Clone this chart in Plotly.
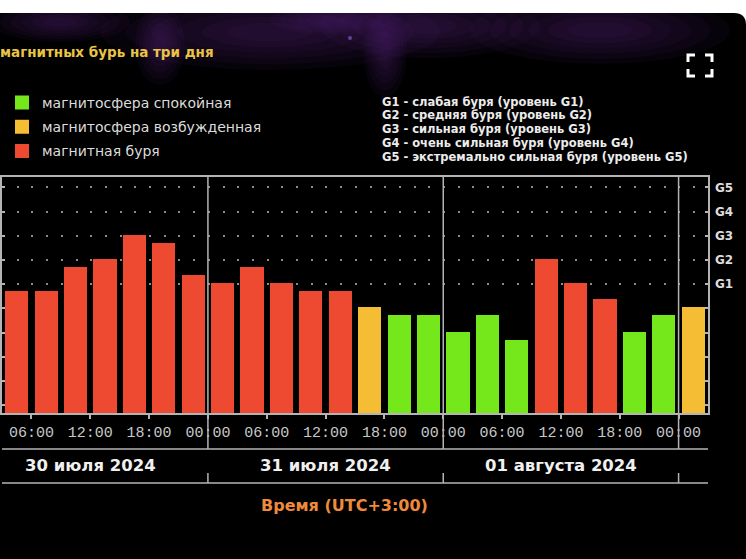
import plotly.graph_objects as go

# Kp index for each 3-hour interval (UTC+3), 30 Jul 03:00 .. 2 Aug 03:00
interval_start = [
    '2024-07-30 03:00', '2024-07-30 06:00', '2024-07-30 09:00', '2024-07-30 12:00',
    '2024-07-30 15:00', '2024-07-30 18:00', '2024-07-30 21:00',
    '2024-07-31 00:00', '2024-07-31 03:00', '2024-07-31 06:00', '2024-07-31 09:00',
    '2024-07-31 12:00', '2024-07-31 15:00', '2024-07-31 18:00', '2024-07-31 21:00',
    '2024-08-01 00:00', '2024-08-01 03:00', '2024-08-01 06:00', '2024-08-01 09:00',
    '2024-08-01 12:00', '2024-08-01 15:00', '2024-08-01 18:00', '2024-08-01 21:00',
    '2024-08-02 00:00',
]
kp_values = [
    4.67, 4.67, 5.67, 6.0, 7.0, 6.67, 5.33,
    5.0, 5.67, 5.0, 4.67, 4.67, 4.0, 3.67, 3.67,
    3.0, 3.67, 2.67, 6.0, 5.0, 4.33, 3.0, 3.67,
    4.0,
]
status = [
    'storm', 'storm', 'storm', 'storm', 'storm', 'storm', 'storm',
    'storm', 'storm', 'storm', 'storm', 'storm', 'active', 'quiet', 'quiet',
    'quiet', 'quiet', 'quiet', 'storm', 'storm', 'storm', 'quiet', 'quiet',
    'active',
]

status_names = {
    'quiet': 'магнитосфера спокойная',
    'active': 'магнитосфера возбужденная',
    'storm': 'магнитная буря',
}
status_colors = {'quiet': '#74e81a', 'active': '#f5bd33', 'storm': '#ee4a32'}

tick_times = [
    '2024-07-30 06:00', '2024-07-30 12:00', '2024-07-30 18:00', '2024-07-31 00:00',
    '2024-07-31 06:00', '2024-07-31 12:00', '2024-07-31 18:00', '2024-08-01 00:00',
    '2024-08-01 06:00', '2024-08-01 12:00', '2024-08-01 18:00', '2024-08-02 00:00',
]
tick_labels = ['06:00', '12:00', '18:00', '00:00'] * 3

day_starts = ['2024-07-31 00:00', '2024-08-01 00:00', '2024-08-02 00:00']
day_centers = ['2024-07-30 12:00', '2024-07-31 12:00', '2024-08-01 12:00']
day_labels = ['30 июля 2024', '31 июля 2024', '01 августа 2024']

g_levels = [5, 6, 7, 8, 9]
g_labels = ['G1', 'G2', 'G3', 'G4', 'G5']
g_notes = [
    'G1 - слабая буря (уровень G1)',
    'G2 - средняя буря (уровень G2)',
    'G3 - сильная буря (уровень G3)',
    'G4 - очень сильная буря (уровень G4)',
    'G5 - экстремально сильная буря (уровень G5)',
]

W, H = 746, 559
PL, PR, PT, PB = 2, 708, 177, 413   # plot area in pixels
Y_MIN, Y_MAX = -0.32, 9.43          # bars are drawn from the bottom of the frame


def px_x(x):
    return (x - PL) / (PR - PL)


def px_y(y):
    return (PB - y) / (PB - PT)


GRAY = '#b4b4b4'
THREE_H = 3 * 3600 * 1000

fig = go.Figure()
for key in ['quiet', 'active', 'storm']:
    xs = [t for t, s in zip(interval_start, status) if s == key]
    ys = [v for v, s in zip(kp_values, status) if s == key]
    fig.add_trace(go.Bar(
        x=xs, y=[v - Y_MIN for v in ys], base=Y_MIN,
        customdata=ys, hovertemplate='Kp %{customdata}<extra></extra>',
        name=status_names[key], legendgroup=key,
        xperiod=THREE_H, xperiodalignment='middle',
        width=0.72 * THREE_H,
        marker=dict(color=status_colors[key],
                    line=dict(color=status_colors[key], width=2)),
    ))
# keeps the right-hand G axis alive
fig.add_trace(go.Scatter(x=[], y=[], yaxis='y2', showlegend=False))

shapes = []
# soft purple haze at the top of the background
for cx, cy, rx, ry in [(270, 32, 170, 38), (430, 26, 110, 32), (600, 30, 130, 34),
                       (385, 50, 22, 48), (60, 22, 70, 20), (160, 45, 25, 40),
                       (330, 20, 60, 15)]:
    for k in range(6):
        f = 1 - 0.15 * k
        shapes.append(dict(type='circle', xref='paper', yref='paper', layer='below',
                           x0=px_x(cx - rx * f), x1=px_x(cx + rx * f),
                           y0=px_y(cy + ry * f), y1=px_y(cy - ry * f),
                           fillcolor='rgba(90,35,140,0.075)', line_width=0))
shapes.append(dict(type='circle', xref='paper', yref='paper', layer='below',
                   x0=px_x(348), x1=px_x(352), y0=px_y(40), y1=px_y(36),
                   fillcolor='rgba(150,100,210,0.6)', line_width=0))
# white strip above the dark panel
shapes.append(dict(type='rect', xref='paper', yref='paper',
                   x0=px_x(0), x1=px_x(W), y0=px_y(13), y1=px_y(0),
                   fillcolor='white', line_width=0))
shapes.append(dict(type='path', xref='paper', yref='paper', fillcolor='white', line_width=0,
                   path='M %f,%f L %f,%f L %f,%f Q %f,%f %f,%f Z' % (
                       px_x(734), px_y(13), px_x(W), px_y(13), px_x(W), px_y(25),
                       px_x(W), px_y(13), px_x(734), px_y(13))))
# expand icon
for pts in [[(688, 62), (688, 55), (695, 55)], [(705, 55), (712, 55), (712, 62)],
            [(688, 69), (688, 76), (695, 76)], [(705, 76), (712, 76), (712, 69)]]:
    path = 'M ' + ' L '.join('%f,%f' % (px_x(a), px_y(b)) for a, b in pts)
    shapes.append(dict(type='path', xref='paper', yref='paper', path=path,
                       line=dict(color='white', width=3)))
# day separators
for d in day_starts:
    shapes.append(dict(type='line', xref='x', yref='paper', x0=d, x1=d,
                       y0=1, y1=px_y(449), line=dict(color=GRAY, width=1.5)))
    shapes.append(dict(type='line', xref='x', yref='paper', x0=d, x1=d,
                       y0=px_y(473), y1=px_y(483), line=dict(color=GRAY, width=1.5)))
# rules around the date row
for yy in [449, 483]:
    shapes.append(dict(type='line', xref='paper', yref='paper', x0=0, x1=1,
                       y0=px_y(yy), y1=px_y(yy), line=dict(color=GRAY, width=1.5)))

annotations = [
    dict(text='магнитных бурь на три дня', xref='paper', yref='paper',
         x=px_x(-2), y=px_y(52), xanchor='left', yanchor='middle', showarrow=False,
         font=dict(family='DejaVu Sans', size=13.5, color='#eac445', weight='bold')),
    dict(text='Время (UTC+3:00)', xref='paper', yref='paper',
         x=px_x(344), y=px_y(505), xanchor='center', yanchor='middle', showarrow=False,
         font=dict(family='DejaVu Sans', size=16, color='#ef8a3c', weight='bold')),
]
for c, lab in zip(day_centers, day_labels):
    annotations.append(dict(text=lab, xref='x', yref='paper', x=c, y=px_y(465),
                            xanchor='center', yanchor='middle', showarrow=False,
                            font=dict(family='DejaVu Sans', size=16.5, color='#f0f0f0',
                                      weight='bold')))
for i, note in enumerate(g_notes):
    annotations.append(dict(text=note, xref='paper', yref='paper',
                            x=px_x(380), y=px_y(101.5 + 13.8 * i),
                            xanchor='left', yanchor='middle', showarrow=False,
                            font=dict(family='DejaVu Sans', size=11.5, color='#ececec',
                                      weight='bold')))

fig.update_layout(
    width=W, height=H, autosize=False,
    margin=dict(l=PL, r=W - PR, t=PT, b=H - PB),
    paper_bgcolor='black', plot_bgcolor='black',
    barmode='overlay', bargap=0,
    showlegend=True,
    legend=dict(x=0, y=px_y(87), xanchor='left', yanchor='top',
                bgcolor='rgba(0,0,0,0)', traceorder='grouped', tracegroupgap=3,
                font=dict(family='DejaVu Sans', size=14, color='#dcdcdc')),
    xaxis=dict(type='date', range=['2024-07-30 03:00', '2024-08-02 03:00'],
               tickvals=tick_times, ticktext=tick_labels,
               ticks='outside', ticklen=4, tickcolor=GRAY, tickwidth=1.5,
               showline=True, linecolor=GRAY, linewidth=1.5, mirror=True,
               showgrid=False, zeroline=False,
               tickfont=dict(family='Liberation Mono', size=15, color='#c8c8c8')),
    yaxis=dict(range=[Y_MIN, Y_MAX], tickvals=list(range(10)),
               ticks='inside', ticklen=3, tickcolor=GRAY, tickwidth=1.5,
               showline=True, linecolor=GRAY, linewidth=1.5, mirror='ticks',
               showgrid=False, zeroline=False, showticklabels=False),
    yaxis2=dict(range=[Y_MIN, Y_MAX], overlaying='y', side='right',
                tickvals=g_levels, ticktext=g_labels, ticks='',
                showline=False, zeroline=False,
                showgrid=True, gridcolor='#8c8c8c', gridwidth=2,
                griddash='2px,12.7px', ticklabelstandoff=6,
                tickfont=dict(family='DejaVu Sans', size=12, color='#dcdcdc',
                              weight='bold')),
    shapes=shapes,
    annotations=annotations,
)

# the page body has a default 8px margin; drop it so the figure sits at 0,0
fig.write_html('out.html', config={'displayModeBar': False},
               post_script="document.body.style.margin='0';")
